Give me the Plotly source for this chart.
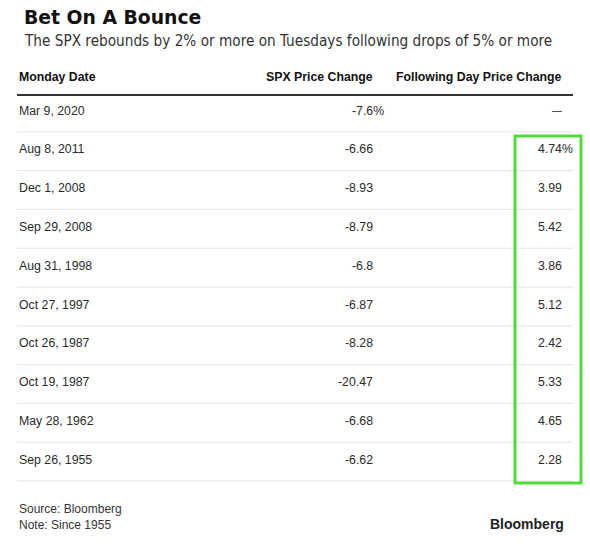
import plotly.graph_objects as go

title = "Bet On A Bounce"
subtitle = "The SPX rebounds by 2% or more on Tuesdays following drops of 5% or more"
headers = ["Monday Date", "SPX Price Change", "Following Day Price Change"]
dates = ["Mar 9, 2020", "Aug 8, 2011", "Dec 1, 2008", "Sep 29, 2008", "Aug 31, 1998",
         "Oct 27, 1997", "Oct 26, 1987", "Oct 19, 1987", "May 28, 1962", "Sep 26, 1955"]
spx_change = ["-7.6", "-6.66", "-8.93", "-8.79", "-6.8", "-6.87", "-8.28", "-20.47", "-6.68", "-6.62"]
next_day = [None, "4.74", "3.99", "5.42", "3.86", "5.12", "2.42", "5.33", "4.65", "2.28"]
source = "Source: Bloomberg<br>Note: Since 1955"
brand = "Bloomberg"

W, H = 590, 546
ROW0, STEP = 110.5, 38.8  # pixel centre of first row, pixel row pitch


def row_of(px):
    return (px - ROW0) / STEP


X_LEFT, X_RIGHT = 17, 573
X_COL2, X_COL3 = 375, 564
PCT_SHIFT = 11
FONT = "Liberation Sans"
TXT = "#2b2b2b"

fig = go.Figure()
fig.add_trace(go.Scatter(x=[0], y=[0], mode="markers", marker=dict(opacity=0),
                         hoverinfo="skip", showlegend=False))

ann = []
hy = row_of(77)
hfont = dict(family=FONT, size=12.3, color="#111")
ann.append(dict(x=X_LEFT, y=hy, text="<b>" + headers[0] + "</b>", xanchor="left", font=hfont))
ann.append(dict(x=X_COL2, y=hy, text="<b>" + headers[1] + "</b>", xanchor="right", font=hfont))
ann.append(dict(x=X_COL3, y=hy, text="<b>" + headers[2] + "</b>", xanchor="right", font=hfont))

cell_font = dict(family=FONT, size=12.3, color=TXT)
first_pct2 = True
first_pct3 = True
for i, d in enumerate(dates):
    ann.append(dict(x=X_LEFT, y=i, text=d, xanchor="left", font=cell_font))
    if first_pct2:
        ann.append(dict(x=X_COL2, y=i, text=spx_change[i] + "%", xanchor="right",
                        xshift=PCT_SHIFT, font=cell_font))
        first_pct2 = False
    else:
        ann.append(dict(x=X_COL2, y=i, text=spx_change[i], xanchor="right", font=cell_font))
    v = next_day[i]
    if v is None:
        ann.append(dict(x=X_COL3, y=i, text="\u2014", xanchor="right",
                        font=dict(family=FONT, size=10, color=TXT)))
    elif first_pct3:
        ann.append(dict(x=X_COL3, y=i, text=v + "%", xanchor="right",
                        xshift=PCT_SHIFT, font=cell_font))
        first_pct3 = False
    else:
        ann.append(dict(x=X_COL3, y=i, text=v, xanchor="right", font=cell_font))
for a in ann:
    a.setdefault("xref", "x")
    a.setdefault("yref", "y")
    a.setdefault("showarrow", False)
    a.setdefault("yanchor", "middle")


def py(px):
    return 1 - px / H


ann.append(dict(x=22 / W, y=py(18), xref="paper", yref="paper", xanchor="left", yanchor="middle",
                text="<b>" + title + "</b>", showarrow=False,
                font=dict(family="DejaVu Sans", size=18.8, color="#111")))
ann.append(dict(x=22 / W, y=py(41), xref="paper", yref="paper", xanchor="left", yanchor="middle",
                text=subtitle, showarrow=False,
                font=dict(family="DejaVu Sans Condensed, DejaVu Sans", size=15.2, color="#333")))
ann.append(dict(x=X_LEFT / W, y=py(517), xref="paper", yref="paper", xanchor="left", yanchor="middle",
                text=source, showarrow=False, align="left",
                font=dict(family=FONT, size=12, color="#333")))
ann.append(dict(x=566 / W, y=py(524), xref="paper", yref="paper", xanchor="right", yanchor="middle",
                text="<b>" + brand + "</b>", showarrow=False,
                font=dict(family=FONT, size=14, color="#222")))

shapes = []
shapes.append(dict(type="line", xref="x", yref="y", x0=X_LEFT, x1=X_RIGHT,
                   y0=row_of(95), y1=row_of(95), line=dict(color="#333", width=2)))
for i in range(len(dates)):
    shapes.append(dict(type="line", xref="x", yref="y", x0=X_LEFT, x1=X_RIGHT,
                       y0=i + 0.55, y1=i + 0.55, line=dict(color="#e4e4e4", width=1)))
shapes.append(dict(type="rect", xref="x", yref="y", x0=515, x1=581,
                   y0=row_of(136), y1=len(dates) - 1 + 0.6,
                   line=dict(color="#4fdb3a", width=3)))

fig.update_layout(
    width=W, height=H, margin=dict(l=0, r=0, t=0, b=0),
    paper_bgcolor="white", plot_bgcolor="white",
    xaxis=dict(range=[0, W], visible=False, fixedrange=True),
    yaxis=dict(range=[row_of(H), row_of(0)], visible=False, fixedrange=True),
    annotations=ann, shapes=shapes, showlegend=False,
)
fig.write_html("out.html", config={"displayModeBar": False},
               post_script="document.body.style.margin='0';")
